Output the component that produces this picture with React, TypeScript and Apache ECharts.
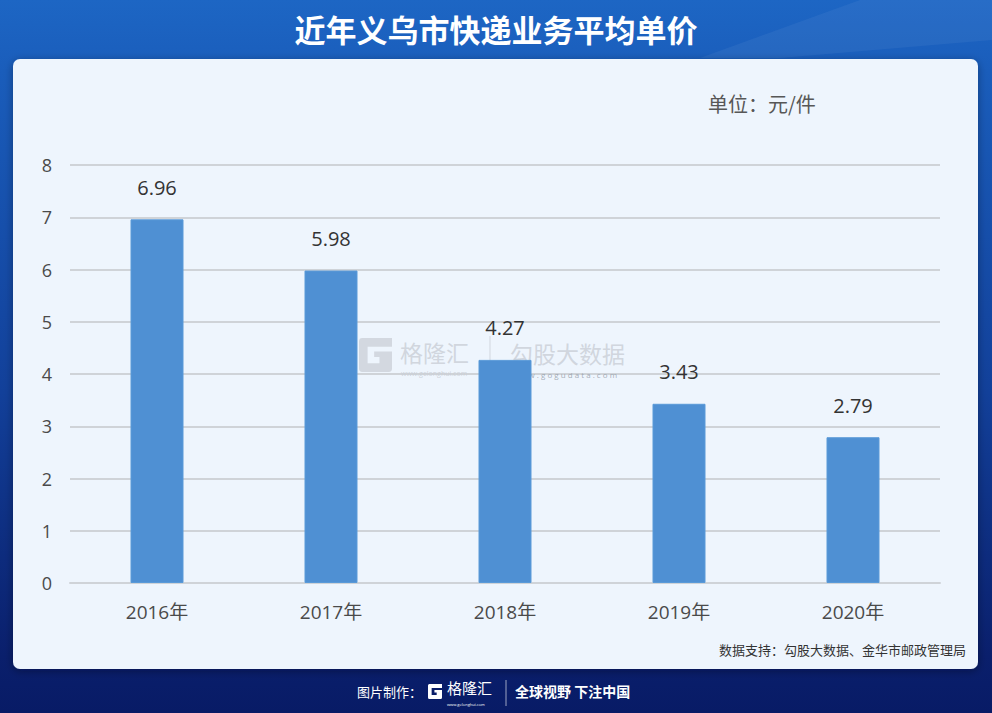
import React, { useEffect, useRef } from "react";
import * as echarts from "echarts";

const categories = ["2016年", "2017年", "2018年", "2019年", "2020年"];
const values = [6.96, 5.98, 4.27, 3.43, 2.79];
const yMin = 0;
const yMax = 8;
const yInterval = 1;

const titleText = "近年义乌市快递业务平均单价";
const unitText = "单位：元/件";
const sourceText = "数据支持：勾股大数据、金华市邮政管理局";

const CJK = "'Noto Sans CJK SC', 'Noto Sans', sans-serif";
const NUM = "'Open Sans', 'Noto Sans CJK SC', sans-serif";

echarts.graphic.registerShape(
  "glogo",
  echarts.graphic.extendPath(
    "M0 1 Q0 0 1 0 L10 0 L10 2.6 L2.6 2.6 L2.6 7.4 L6.2 7.4 L6.2 5.6 L4.6 5.6 L4.6 4 L10 4 L10 9 Q10 10 9 10 L1 10 Q0 10 0 9 Z",
    {}
  )
);

export default function App() {
  const ref = useRef<HTMLDivElement>(null);

  useEffect(() => {
    document.body.style.margin = "0";
    if (!ref.current) return;
    const chart = echarts.init(ref.current, null, { renderer: "svg" });
    const wmColor = "#c9ced6";
    chart.setOption({
      animation: false,
      graphic: [
        {
          type: "rect",
          z: -20,
          silent: true,
          shape: { x: 0, y: 0, width: 992, height: 713 },
          style: {
            fill: new echarts.graphic.LinearGradient(0, 0, 0, 1, [
              { offset: 0, color: "#1d66c4" },
              { offset: 0.1, color: "#1a5dbb" },
              { offset: 0.55, color: "#12409a" },
              { offset: 0.92, color: "#0a1f6c" },
              { offset: 1, color: "#081b66" },
            ]),
          },
        },
        {
          type: "polygon",
          z: -19,
          silent: true,
          shape: { points: [[860, 0], [992, 0], [992, 40], [780, 58], [700, 58]] },
          style: { fill: "rgba(255,255,255,0.05)" },
        },
        {
          type: "rect",
          z: -18,
          silent: true,
          shape: { x: 13, y: 59, width: 965, height: 610, r: 7 },
          style: {
            fill: "#eef5fd",
            shadowBlur: 8,
            shadowColor: "rgba(0,0,30,0.35)",
            shadowOffsetY: 2,
          },
        },
        {
          type: "text",
          left: "center",
          top: 13,
          style: {
            text: titleText,
            fill: "#ffffff",
            font: `bold 31px ${CJK}`,
          },
        },
        {
          type: "text",
          left: 708,
          top: 93,
          style: {
            text: unitText,
            fill: "#575757",
            font: `20px ${CJK}`,
          },
        },
        {
          type: "text",
          right: 26,
          top: 643,
          style: {
            text: sourceText,
            fill: "#333333",
            font: `13px ${CJK}`,
          },
        },
        // watermark
        {
          type: "glogo",
          z: 1,
          silent: true,
          x: 359,
          y: 338,
          scaleX: 3.3,
          scaleY: 3.4,
          style: { fill: wmColor, opacity: 0.75 },
        },
        {
          type: "text",
          z: 1,
          left: 400,
          top: 340,
          style: {
            text: "格隆汇",
            fill: wmColor,
            opacity: 0.8,
            font: `23px ${CJK}`,
            lineHeight: 23,
          },
        },
        {
          type: "text",
          z: 1,
          left: 401,
          top: 370,
          style: {
            text: "www.gelonghui.com",
            fill: wmColor,
            opacity: 0.9,
            font: `7px ${NUM}`,
            lineHeight: 7,
          },
        },
        {
          type: "line",
          z: 1,
          silent: true,
          shape: { x1: 490, y1: 336, x2: 490, y2: 378 },
          style: { stroke: wmColor, lineWidth: 1, opacity: 0.8 },
        },
        {
          type: "text",
          z: 1,
          left: 510,
          top: 341,
          style: {
            text: "勾股大数据",
            fill: wmColor,
            opacity: 0.8,
            font: `23px ${CJK}`,
            lineHeight: 22,
          },
        },
        {
          type: "text",
          z: 1,
          left: 512,
          top: 370,
          style: {
            text: "w w w . g o g u d a t a . c o m",
            fill: "#9aa3ae",
            opacity: 0.9,
            font: `8px ${NUM}`,
            lineHeight: 8,
          },
        },
        // footer
        {
          type: "text",
          left: 357,
          top: 685,
          style: { text: "图片制作：", fill: "#ffffff", font: `13px ${CJK}` },
        },
        {
          type: "glogo",
          silent: true,
          x: 428,
          y: 684,
          scaleX: 1.4,
          scaleY: 1.5,
          style: { fill: "#ffffff" },
        },
        {
          type: "text",
          left: 447,
          top: 680,
          style: { text: "格隆汇", fill: "#ffffff", font: `15px ${CJK}`, lineHeight: 15 },
        },
        {
          type: "text",
          left: 447,
          top: 702,
          style: { text: "www.gelonghui.com", fill: "#ffffff", font: `4px ${NUM}`, lineHeight: 4 },
        },
        {
          type: "line",
          silent: true,
          shape: { x1: 506, y1: 680, x2: 506, y2: 706 },
          style: { stroke: "rgba(255,255,255,0.6)", lineWidth: 1 },
        },
        {
          type: "text",
          left: 515,
          top: 684,
          style: { text: "全球视野 下注中国", fill: "#ffffff", font: `bold 14px ${CJK}` },
        },
      ],
      grid: { left: 70, right: 52, top: 165, bottom: 130, containLabel: false },
      xAxis: {
        type: "category",
        data: categories,
        axisLine: { show: true, lineStyle: { color: "#cfd3d8", width: 2 } },
        axisTick: { show: false },
        axisLabel: {
          margin: 19,
          color: "#4a4a4a",
          fontSize: 19,
          fontFamily: NUM,
        },
      },
      yAxis: {
        type: "value",
        min: yMin,
        max: yMax,
        interval: yInterval,
        axisLine: { show: false },
        axisTick: { show: false },
        axisLabel: {
          margin: 18,
          color: "#4a4a4a",
          fontSize: 18,
          fontFamily: NUM,
        },
        splitLine: { lineStyle: { color: "#cfd3d8", width: 2 } },
      },
      series: [
        {
          type: "bar",
          data: values,
          barWidth: 53,
          z: 3,
          itemStyle: { color: "#4f90d3", borderColor: "#5a9ad8", borderWidth: 1 },
          label: {
            show: true,
            position: "top",
            distance: 22,
            color: "#333333",
            fontSize: 20,
            fontFamily: NUM,
            formatter: (p: any) => p.value.toFixed(2),
          },
        },
      ],
    });
    return () => chart.dispose();
  }, []);

  return (
    <div style={{ position: "absolute", left: 0, top: 0, width: 992, height: 713 }}>
      <div ref={ref} style={{ width: 992, height: 713 }} />
    </div>
  );
}
